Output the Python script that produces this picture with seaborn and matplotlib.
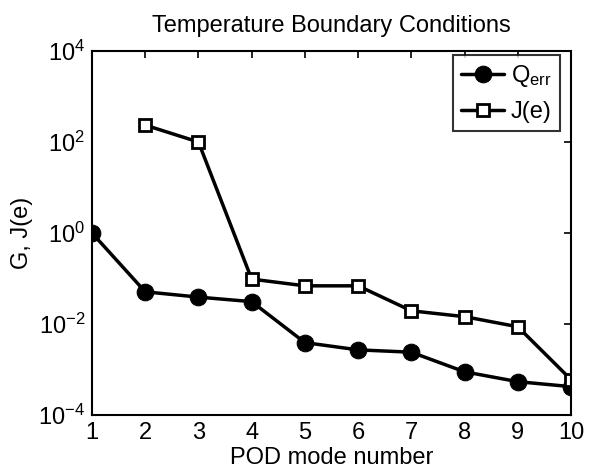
import matplotlib
matplotlib.use("Agg")
import matplotlib.pyplot as plt
import seaborn as sns
import pandas as pd
import numpy as np

modes_q = [1, 2, 3, 4, 5, 6, 7, 8, 9, 10]
q_err = [1.0, 0.051, 0.039, 0.031, 0.0039, 0.0027, 0.0024, 0.00089, 0.00054, 0.00042]
modes_j = [2, 3, 4, 5, 6, 7, 8, 9, 10]
j_e = [235, 100, 0.097, 0.069, 0.069, 0.0195, 0.0145, 0.0087, 0.0006]

sns.set_theme(style="white")
plt.rcParams['font.family'] = ['Liberation Sans', 'DejaVu Sans']
plt.rcParams['mathtext.fontset'] = 'custom'
plt.rcParams['mathtext.rm'] = 'Liberation Sans'
plt.rcParams['mathtext.it'] = 'Liberation Sans:italic'
plt.rcParams['mathtext.bf'] = 'Liberation Sans:bold'
plt.rcParams['text.color'] = 'black'
plt.rcParams['axes.labelcolor'] = 'black'

fig = plt.figure(figsize=(5.95, 4.71), dpi=100)
ax = fig.add_axes([92/595, 1-415/471, (571-92)/595, (415-51)/471])

dq = pd.DataFrame({"mode": modes_q, "val": q_err})
dj = pd.DataFrame({"mode": modes_j, "val": j_e})

sns.lineplot(data=dq, x="mode", y="val", ax=ax, color="black", lw=2.5,
             marker="o", markersize=12, markerfacecolor="black",
             markeredgecolor="black", label=r"Q$_{\mathregular{err}}$")
sns.lineplot(data=dj, x="mode", y="val", ax=ax, color="black", lw=2.5,
             marker="s", markersize=8.5, markerfacecolor="white",
             markeredgecolor="black", markeredgewidth=2, label="J(e)")

ax.set_yscale("log")
ax.set_xlim(1, 10)
ax.set_ylim(1e-4, 1e4)
ax.set_xticks(range(1, 11))
ax.set_yticks([1e-4, 1e-2, 1e0, 1e2, 1e4])
ax.yaxis.set_minor_locator(matplotlib.ticker.NullLocator())
ax.tick_params(direction="in", top=True, right=True, length=5, width=1.2,
               labelsize=17, colors="black", pad=5)
for s in ax.spines.values():
    s.set_color("black")
    s.set_linewidth(1.5)

ax.set_xlabel("POD mode number", fontsize=17, labelpad=2.5)
ax.set_ylabel("G, J(e)", fontsize=17, labelpad=4)
ax.set_title("Temperature Boundary Conditions", fontsize=17, pad=14)

leg = ax.legend(loc="upper right", bbox_to_anchor=((560-92)/479, (415-55)/364),
                fontsize=17, frameon=True, fancybox=False,
                edgecolor="black", handlelength=1.8, borderaxespad=0.0,
                handletextpad=0.3, borderpad=0.35, labelspacing=0.5,
                markerscale=1.0)
leg.get_frame().set_linewidth(1.5)

fig.savefig("out.png", dpi=100)
